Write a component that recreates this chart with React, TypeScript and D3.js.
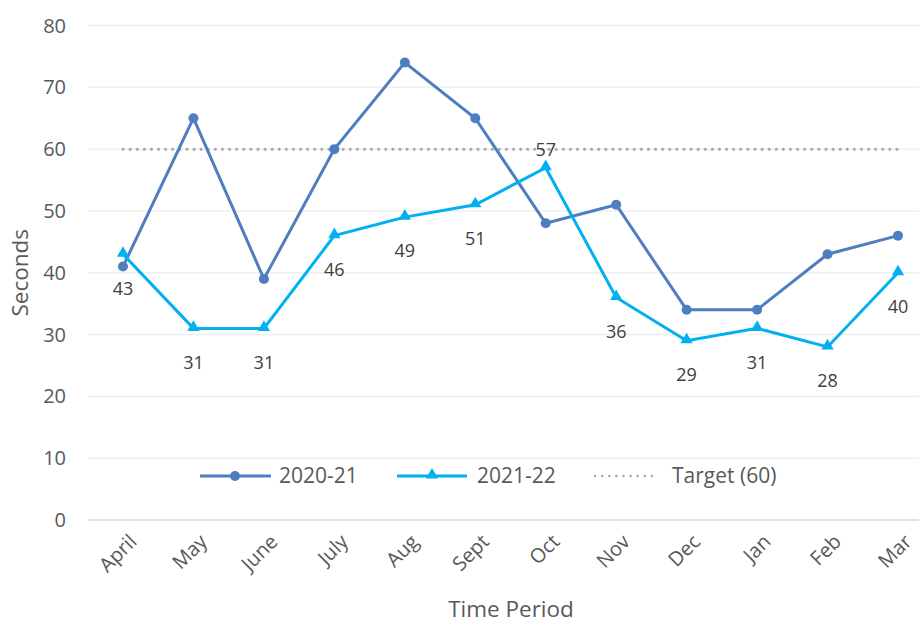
import * as d3 from "d3";

const months = ["April", "May", "June", "July", "Aug", "Sept", "Oct", "Nov", "Dec", "Jan", "Feb", "Mar"];
const series2020 = [41, 65, 39, 60, 74, 65, 48, 51, 34, 34, 43, 46];
const series2021 = [43, 31, 31, 46, 49, 51, 57, 36, 29, 31, 28, 40];
const target = 60;
const yTicks = [0, 10, 20, 30, 40, 50, 60, 70, 80];

const W = 919;
const H = 623;
const FONT = "'Open Sans', sans-serif";
const C1 = "#4E7EBF";
const C2 = "#00B0F0";
const GRAY = "#A6A6A6";
const TEXT = "#595959";

export default function App() {
    const x = d3.scalePoint<string>().domain(months).range([123, 898]);
    const y = d3.scaleLinear().domain([0, 80]).range([520, 25.5]);

    const line = d3
        .line<number>()
        .x((_, i) => x(months[i])!)
        .y(d => y(d));

    const tri = d3.symbol().type(d3.symbolTriangle).size(65)();

    return (
        <svg width={W} height={H} style={{ position: "absolute", left: 0, top: 0, background: "#fff" }} fontFamily={FONT}>
            {/* grid */}
            {yTicks.map(t => (
                <line key={t} x1={88} x2={W} y1={y(t)} y2={y(t)} stroke={t === 0 ? "#D9D9D9" : "#EFEFEF"} strokeWidth={1.5} />
            ))}
            {yTicks.map(t => (
                <text key={"l" + t} x={66} y={y(t)} dy="0.35em" textAnchor="end" fontSize={20} fill={TEXT}>{t}</text>
            ))}

            {/* x tick labels */}
            {months.map(m => (
                <text
                    key={m}
                    transform={`translate(${x(m)! + 10},${538}) rotate(-45)`}
                    textAnchor="end"
                    dy="0.35em"
                    fontSize={20}
                    fill={TEXT}
                >
                    {m}
                </text>
            ))}

            {/* axis titles */}
            <text transform={`translate(20,${y(40)}) rotate(-90)`} textAnchor="middle" dy="0.35em" fontSize={22.5} fill={TEXT}>Seconds</text>
            <text x={511} y={609} textAnchor="middle" dy="0.35em" fontSize={22.5} fill={TEXT}>Time Period</text>

            {/* target */}
            <line x1={x("April")} x2={x("Mar")} y1={y(target)} y2={y(target)} stroke={GRAY} strokeWidth={3} strokeDasharray="0.1 7" strokeLinecap="round" />

            {/* series */}
            <path d={line(series2020)!} fill="none" stroke={C1} strokeWidth={3} />
            {series2020.map((v, i) => (
                <circle key={"c" + i} cx={x(months[i])} cy={y(v)} r={5} fill={C1} />
            ))}
            <path d={line(series2021)!} fill="none" stroke={C2} strokeWidth={3} />
            {series2021.map((v, i) => (
                <path key={"t" + i} d={tri!} transform={`translate(${x(months[i])},${y(v) - 1})`} fill={C2} />
            ))}

            {/* data labels */}
            {series2021.map((v, i) => {
                const above = months[i] === "Oct";
                return (
                    <text
                        key={"d" + i}
                        x={x(months[i])}
                        y={above ? y(v) - 18 : y(v) + 34}
                        dy="0.35em"
                        textAnchor="middle"
                        fontSize={18}
                        fill="#404040"
                    >
                        {v}
                    </text>
                );
            })}

            {/* legend */}
            <g transform="translate(0,476)">
                <line x1={200} x2={271} y1={0} y2={0} stroke={C1} strokeWidth={3} />
                <circle cx={235} cy={0} r={5} fill={C1} />
                <text x={279} y={0} dy="0.35em" fontSize={21} fill={TEXT}>2020-21</text>
                <line x1={397} x2={467} y1={0} y2={0} stroke={C2} strokeWidth={3} />
                <path d={tri!} transform="translate(432,-1)" fill={C2} />
                <text x={477} y={0} dy="0.35em" fontSize={21} fill={TEXT}>2021-22</text>
                <line x1={595} x2={658} y1={0} y2={0} stroke={GRAY} strokeWidth={2.5} strokeDasharray="0.1 7" strokeLinecap="round" />
                <text x={672} y={0} dy="0.35em" fontSize={21} fill={TEXT}>Target (60)</text>
            </g>
        </svg>
    );
}
